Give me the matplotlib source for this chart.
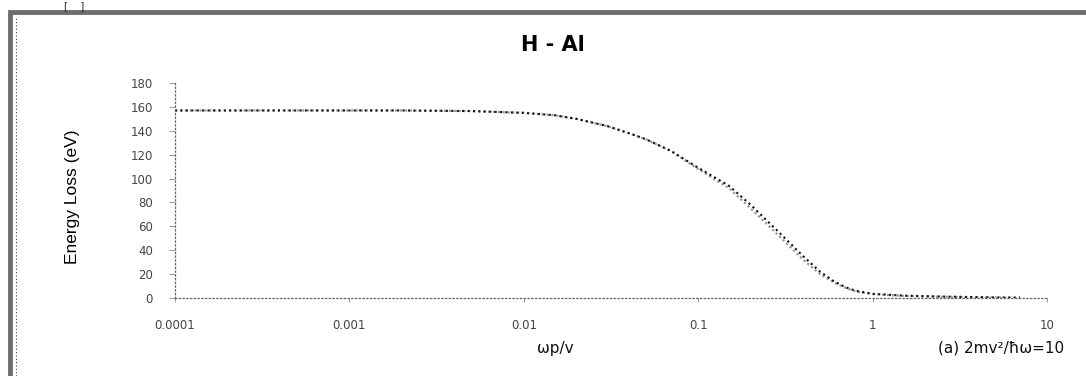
import numpy as np
import matplotlib
matplotlib.use('Agg')
import matplotlib.pyplot as plt
from matplotlib.patches import Rectangle
from matplotlib.lines import Line2D

# wp/v values and energy loss (eV)
wp_v = [0.0001, 0.0002, 0.0005, 0.001, 0.002, 0.005, 0.01, 0.015, 0.02, 0.03,
        0.04, 0.05, 0.07, 0.1, 0.15, 0.2, 0.3, 0.4, 0.5, 0.6, 0.7, 0.8, 1.0,
        1.5, 2.0, 3.0, 5.0, 7.0]
loss_a = [157, 157, 157, 157, 157, 156.5, 155, 153, 150, 144,
          138, 133, 123, 109, 94, 78, 53, 35, 22, 14, 9, 6, 3.5,
          2, 1.5, 1, 0.5, 0.3]
loss_b = [157, 157, 157, 157, 157, 156.5, 155, 153, 150, 144,
          138, 133, 123, 108, 92, 75, 50, 32, 20, 13, 8.5, 5.5, 3.2,
          1.8, 1.3, 0.9, 0.4, 0.2]
yticks = [0, 20, 40, 60, 80, 100, 120, 140, 160, 180]
xticks = [0.0001, 0.001, 0.01, 0.1, 1, 10]
xticklabels = ['0.0001', '0.001', '0.01', '0.1', '1', '10']

W, H = 1086, 376
fig = plt.figure(figsize=(W / 100, H / 100), dpi=100)

# outer frame of the screenshot
fig.patches.append(Rectangle((10 / W, -0.1), 1.2, 1 - 12 / H + 0.1,
                             transform=fig.transFigure, fill=False,
                             edgecolor='#6e6e6e', linewidth=3.5))
fig.lines.append(Line2D([16 / W, 16 / W], [0, 1 - 16 / H], transform=fig.transFigure,
                        color='#444444', linestyle=(0, (1, 2)), linewidth=0.8))
fig.text(64 / W, 1 - 1 / H, '[    ]', fontsize=7, color='#222222', va='top')

ax = fig.add_axes([175 / W, 1 - 298 / H, (1047 - 175) / W, (298 - 83) / H])
ax.plot(wp_v, loss_b, color='#9a9a9a', linestyle=(0, (1, 1.2)), linewidth=1.6)
ax.plot(wp_v, loss_a, color='#111111', linestyle=(0, (1, 1.6)), linewidth=1.5)

ax.set_xscale('log')
ax.set_xlim(0.0001, 10)
ax.set_ylim(0, 180)
ax.set_xticks(xticks)
ax.set_xticklabels(xticklabels)
ax.xaxis.set_minor_locator(matplotlib.ticker.NullLocator())
ax.set_yticks(yticks)

for s in ['top', 'right']:
    ax.spines[s].set_visible(False)
for s in ['left', 'bottom']:
    ax.spines[s].set_linestyle((0, (1, 2)))
    ax.spines[s].set_color('#666666')
    ax.spines[s].set_linewidth(0.9)

ax.tick_params(axis='y', length=4, width=0.6, color='#888888', labelsize=8.5,
               labelcolor='#444444', pad=12)
ax.tick_params(axis='x', length=3, width=0.6, color='#888888', labelsize=8.5,
               labelcolor='#444444', pad=12)

fig.text(553 / W, 1 - 45 / H, 'H - Al', fontsize=15, fontweight='bold',
         ha='center', va='center', family='DejaVu Sans')
fig.text(72 / W, 1 - 197 / H, 'Energy Loss (eV)', rotation=90, fontsize=12.5,
         ha='center', va='center', family=['Liberation Sans Narrow', 'Liberation Sans'])
fig.text(555 / W, 1 - 348 / H, 'ωp/v', fontsize=11, ha='center', va='center',
         color='#111111')
fig.text(1001 / W, 1 - 348 / H, '(a) 2mv²/ħω=10', fontsize=11, ha='center',
         va='center', color='#111111')

plt.savefig('out.png', dpi=100)
